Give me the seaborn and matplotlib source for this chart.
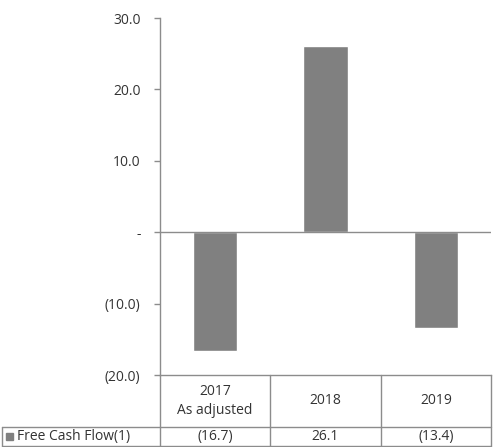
import matplotlib
matplotlib.use("Agg")
import matplotlib.pyplot as plt
import seaborn as sns
import pandas as pd
from matplotlib.lines import Line2D
from matplotlib.patches import Rectangle

categories = ["2017\nAs adjusted", "2018", "2019"]
values = [-16.7, 26.1, -13.4]
value_labels = ["(16.7)", "26.1", "(13.4)"]
series_name = "Free Cash Flow(1)"
yticks = [30, 20, 10, 0, -10, -20]
ytick_labels = ["30.0", "20.0", "10.0", "-", "(10.0)", "(20.0)"]

sns.set_theme(style="white")
plt.rcParams["font.family"] = ["Open Sans", "DejaVu Sans"]

W, H = 493, 447
fig = plt.figure(figsize=(W / 100, H / 100), dpi=100)
left, right, top, bottom = 160, 491, 18, 375
ax = fig.add_axes([left / W, 1 - bottom / H, (right - left) / W, (bottom - top) / H])

df = pd.DataFrame({"cat": categories, "val": values})
sns.barplot(data=df, x="cat", y="val", color="#808080", saturation=1, width=0.4, ax=ax)

gray = "#8c8c8c"
tc = "#333333"
fs = 10
ax.set_ylim(-20, 30)
ax.set_xlim(-0.5, 2.5)
ax.set_yticks(yticks)
ax.set_yticklabels(ytick_labels, fontsize=fs, color=tc)
ax.set_xticks([])
ax.set_xlabel("")
ax.set_ylabel("")
ax.axhline(0, color=gray, lw=1)
for s in ["top", "right"]:
    ax.spines[s].set_visible(False)
for s in ["left", "bottom"]:
    ax.spines[s].set_color(gray)
    ax.spines[s].set_linewidth(1)
ax.tick_params(axis="y", direction="out", length=4, width=1, color=gray, pad=10, left=True)

# table below the axes
axh = bottom - top
y_hdr = -(427 - bottom) / axh
y_row = -(446 - bottom) / axh
xt = ax.get_xaxis_transform()
lab_left = -(left - 2) / (right - left)

kw = dict(clip_on=False, color=gray, lw=1)
for xb in [-0.5, 0.5, 1.5, 2.5]:
    ax.add_line(Line2D([xb, xb], [0, y_row], transform=xt, **kw))
ax.add_line(Line2D([lab_left, 1], [y_hdr, y_hdr], transform=ax.transAxes, **kw))
ax.add_line(Line2D([lab_left, 1], [y_row, y_row], transform=ax.transAxes, **kw))
ax.add_line(Line2D([lab_left, lab_left], [y_hdr, y_row], transform=ax.transAxes, **kw))

for i, (c, v) in enumerate(zip(categories, value_labels)):
    ax.text(i, y_hdr / 2, c, transform=xt, ha="center", va="center", fontsize=fs,
            color=tc, linespacing=1.45, clip_on=False)
    ax.text(i, (y_hdr + y_row) / 2, v, transform=xt, ha="center", va="center", fontsize=fs,
            color=tc, clip_on=False)

ymid = (y_hdr + y_row) / 2
kx = lab_left + 4 / (right - left)
ax.add_patch(Rectangle((kx, ymid - 3.5 / axh), 7 / (right - left), 7 / axh,
                       transform=ax.transAxes, color="#808080", clip_on=False))
ax.text(kx + 11 / (right - left), ymid, series_name, transform=ax.transAxes,
        ha="left", va="center", fontsize=fs, color=tc, clip_on=False)

fig.savefig("out.png", dpi=100, facecolor="white")
